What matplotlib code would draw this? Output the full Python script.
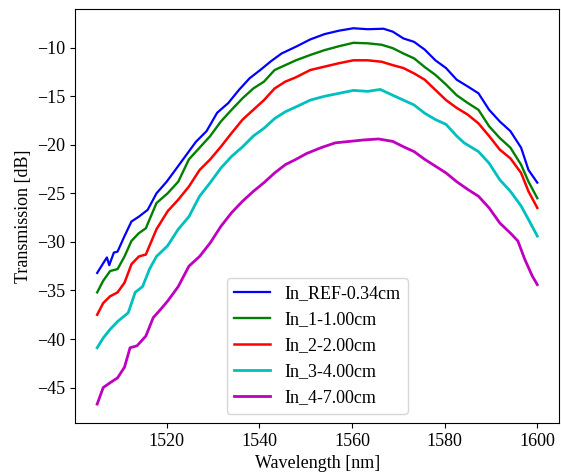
import matplotlib
matplotlib.use('Agg')
import matplotlib.pyplot as plt

plt.rcParams['font.family'] = ['Liberation Serif', 'DejaVu Serif']
plt.rcParams['mathtext.fontset'] = 'stix'
plt.rcParams['font.size'] = 13

labels = ['In_REF-0.34cm', 'In_1-1.00cm', 'In_2-2.00cm', 'In_3-4.00cm', 'In_4-7.00cm']
colors = ['b', 'g', 'r', 'c', 'm']

wl_ref = [1505.0, 1506.3, 1507.1, 1507.6, 1508.6, 1509.4, 1510.9, 1512.4, 1514.0, 1515.9,
          1517.8, 1520.0, 1521.7, 1524.0, 1526.3, 1528.6, 1530.9, 1533.3, 1535.6, 1537.9,
          1540.2, 1542.5, 1544.8, 1547.9, 1551.0, 1554.1, 1557.2, 1560.3, 1563.4, 1566.8,
          1568.8, 1571.1, 1573.4, 1575.7, 1578.0, 1580.3, 1582.6, 1585.0, 1587.3, 1589.6,
          1591.9, 1594.2, 1596.5, 1598.1, 1600.0]
t_ref = [-33.2, -32.2, -31.6, -32.4, -31.1, -31.0, -29.4, -27.9, -27.4, -26.7,
         -25.0, -23.8, -22.7, -21.2, -19.7, -18.6, -16.7, -15.7, -14.35, -13.15,
         -12.3, -11.4, -10.6, -9.9, -9.15, -8.6, -8.25, -8.0, -8.1, -8.05,
         -8.35, -9.05, -9.4, -10.2, -11.3, -12.1, -13.3, -14.0, -14.7, -16.4,
         -17.6, -18.6, -20.3, -22.6, -23.9]

# shared grid for the 1 cm and 2 cm traces
wl_12 = [1505.0, 1506.3, 1507.8, 1509.4, 1510.9, 1512.4, 1514.0, 1515.5, 1517.8, 1520.2,
         1522.5, 1524.8, 1527.1, 1529.4, 1531.7, 1534.0, 1536.4, 1538.7, 1541.0, 1543.3,
         1545.6, 1547.9, 1551.0, 1554.1, 1557.2, 1560.3, 1563.4, 1566.4, 1568.8, 1571.1,
         1573.4, 1575.7, 1578.0, 1580.3, 1582.6, 1585.0, 1587.3, 1589.6, 1591.9, 1594.2,
         1596.5, 1598.1, 1600.0]
t_1 = [-35.2, -34.0, -33.0, -32.8, -31.5, -29.9, -29.1, -28.6, -26.0, -25.0,
       -23.8, -21.5, -20.3, -19.1, -17.6, -16.4, -15.2, -14.2, -13.5, -12.3,
       -11.8, -11.3, -10.75, -10.25, -9.85, -9.5, -9.55, -9.7, -10.05, -10.6,
       -11.1, -12.0, -12.8, -13.8, -14.9, -15.7, -16.4, -18.1, -19.3, -20.3,
       -22.05, -23.8, -25.5]
t_2 = [-37.5, -36.3, -35.6, -35.2, -34.2, -32.3, -31.5, -31.3, -28.7, -26.85,
       -25.65, -24.3, -22.6, -21.5, -20.2, -18.8, -17.4, -16.4, -15.4, -14.2,
       -13.5, -13.05, -12.3, -11.95, -11.6, -11.3, -11.3, -11.45, -11.8, -12.1,
       -12.65, -13.3, -14.35, -15.4, -16.2, -16.9, -17.8, -19.1, -20.5, -21.4,
       -22.9, -24.8, -26.5]

wl_3 = [1505.0, 1506.3, 1507.8, 1509.4, 1511.7, 1513.2, 1514.8, 1516.3, 1517.8, 1520.2,
        1522.5, 1524.8, 1527.1, 1529.4, 1531.7, 1534.0, 1536.4, 1538.7, 1541.0, 1543.3,
        1545.6, 1547.9, 1551.0, 1554.1, 1557.2, 1560.3, 1563.4, 1566.1, 1568.8, 1571.1,
        1573.4, 1575.7, 1578.0, 1580.3, 1582.6, 1584.2, 1587.3, 1589.6, 1591.9, 1594.2,
        1596.5, 1598.1, 1600.0]
t_3 = [-40.9, -39.9, -39.0, -38.2, -37.3, -35.2, -34.6, -32.8, -31.5, -30.4,
       -28.7, -27.4, -25.3, -23.9, -22.4, -21.2, -20.2, -19.1, -18.3, -17.3,
       -16.6, -16.1, -15.4, -15.0, -14.7, -14.4, -14.5, -14.3, -14.9, -15.4,
       -15.9, -16.75, -17.4, -17.9, -19.1, -19.8, -20.7, -21.9, -23.6, -24.8,
       -26.3, -27.7, -29.4]

wl_4 = [1505.0, 1506.3, 1507.8, 1509.4, 1510.9, 1512.1, 1513.6, 1515.5, 1517.1, 1518.6,
        1520.2, 1522.5, 1524.8, 1527.1, 1529.4, 1531.7, 1534.0, 1536.4, 1538.7, 1541.0,
        1543.3, 1545.6, 1547.9, 1550.2, 1553.3, 1556.4, 1559.5, 1562.6, 1565.7, 1568.8,
        1571.1, 1573.4, 1575.7, 1578.0, 1580.3, 1582.6, 1585.0, 1587.3, 1589.6, 1591.9,
        1594.2, 1595.8, 1597.3, 1598.9, 1600.0]
t_4 = [-46.7, -45.0, -44.5, -44.0, -42.9, -40.9, -40.7, -39.7, -37.8, -37.0,
       -36.1, -34.6, -32.5, -31.5, -30.1, -28.4, -27.0, -25.8, -24.8, -23.9,
       -22.9, -22.05, -21.5, -20.9, -20.3, -19.8, -19.65, -19.5, -19.4, -19.65,
       -20.2, -20.7, -21.5, -22.2, -22.9, -23.8, -24.6, -25.3, -26.5, -28.05,
       -29.1, -29.9, -31.8, -33.5, -34.4]

wls = [wl_ref, wl_12, wl_12, wl_3, wl_4]
traces = [t_ref, t_1, t_2, t_3, t_4]
widths = [1.6, 1.7, 1.8, 2.0, 2.0]

fig, ax = plt.subplots(figsize=(5.61, 4.73), dpi=100)
fig.subplots_adjust(left=0.134, right=0.997, top=0.980, bottom=0.106)

for x, y, c, lab, lw in zip(wls, traces, colors, labels, widths):
    ax.plot(x, y, color=c, lw=lw, label=lab)

ax.set_xticks([1520, 1540, 1560, 1580, 1600])
ax.set_yticks([-45, -40, -35, -30, -25, -20, -15, -10])
ax.set_xlabel('Wavelength [nm]')
ax.set_ylabel('Transmission [dB]')
ax.legend(loc='lower center')

fig.savefig('out.png', dpi=100)
